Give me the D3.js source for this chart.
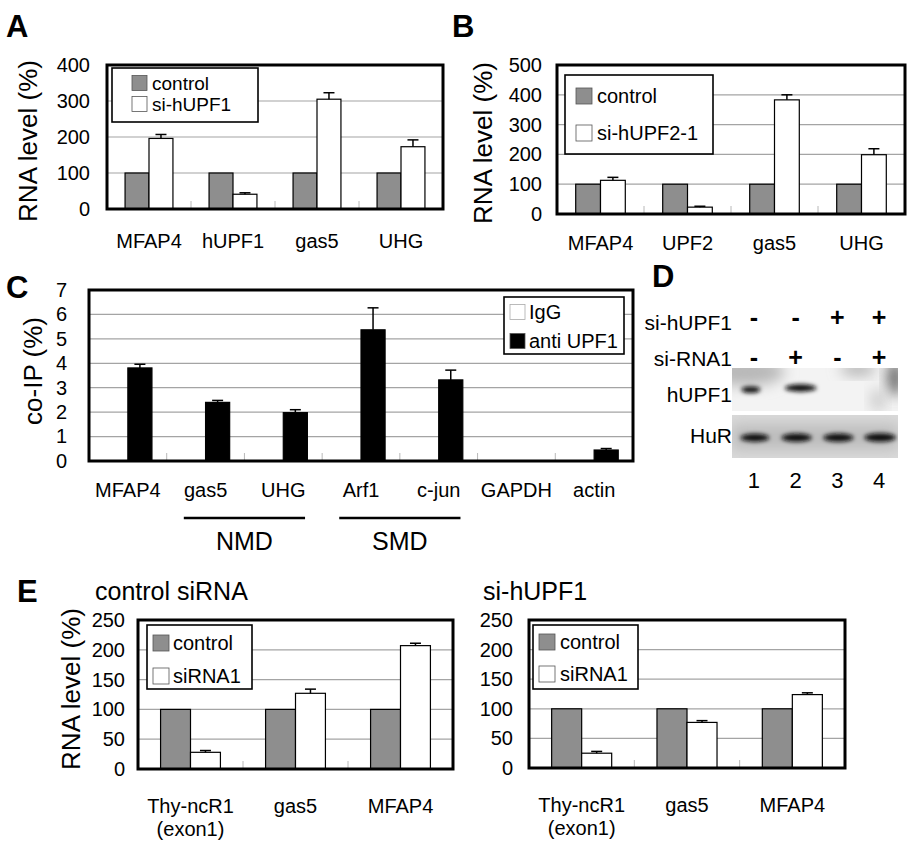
<!DOCTYPE html>
<html><head><meta charset="utf-8">
<script src="https://cdn.jsdelivr.net/npm/d3@7"></script>
<style>
body{margin:0;background:#fff}
svg text{font-family:"Liberation Sans",Arial,Helvetica,sans-serif;fill:#000}
</style>
</head><body>
<svg id="fig" width="920" height="852" xmlns="http://www.w3.org/2000/svg"></svg>
<script>
// ---------------- DATA ----------------
// Panel A
const catsA = ["MFAP4", "hUPF1", "gas5", "UHG"];
const ctrlA = [100, 100, 100, 100];
const siA   = [196, 41, 305, 173];
const errA  = [11, 4, 18, 19];
const ticksA = [0, 100, 200, 300, 400];
// Panel B
const catsB = ["MFAP4", "UPF2", "gas5", "UHG"];
const ctrlB = [100, 100, 100, 100];
const siB   = [113, 23, 383, 199];
const errB  = [10, 3, 17, 20];
const ticksB = [0, 100, 200, 300, 400, 500];
// Panel C
const catsC = ["MFAP4", "gas5", "UHG", "Arf1", "c-jun", "GAPDH", "actin"];
const iggC  = [0, 0, 0, 0, 0, 0, 0];
const antiC = [3.81, 2.40, 1.98, 5.37, 3.32, 0, 0.45];
const errC  = [0.15, 0.08, 0.12, 0.90, 0.40, 0, 0.06];
const ticksC = [0, 1, 2, 3, 4, 5, 6, 7];
const groupsC = [{name: "NMD", from: "gas5", to: "UHG"}, {name: "SMD", from: "Arf1", to: "c-jun"}];
// Panel D (western blot)
const lanesD = ["1", "2", "3", "4"];
const siUPF1D = ["-", "-", "+", "+"];
const siRNA1D = ["-", "+", "-", "+"];
const hUPF1Band = [0.6, 1.0, 0, 0];
const hurBand = [0.8, 0.9, 0.9, 1.0];
// Panel E
const catsE = ["Thy-ncR1\n(exon1)", "gas5", "MFAP4"];
const ctrlE1 = [100, 100, 100];
const siE1   = [28, 127, 207];
const errE1  = [3, 7, 4];
const ctrlE2 = [100, 100, 100];
const siE2   = [25, 77, 124];
const errE2  = [3, 3, 3];
const ticksE = [0, 50, 100, 150, 200, 250];

// ---------------- DRAWING ----------------
const FONT = "Liberation Sans, Arial, Helvetica, sans-serif";
const svg = d3.select("#fig");
const GREY = "#8e8e8e";

function barChart(o) {
  const g = svg.append("g");
  const x = d3.scaleBand().domain(o.cats).range([o.left, o.right]).padding(0);
  const y = d3.scaleLinear().domain([0, o.yMax]).range([o.bottom, o.top]);
  const bw = x.bandwidth() * o.barFrac;
  const xs = d3.scaleBand().domain(o.series.map(s => s.name)).range([-bw, bw]).padding(0);

  // gridlines
  g.selectAll("line.grid").data(o.yTicks.filter(t => t > 0 && t < o.yMax)).join("line")
    .attr("x1", o.left).attr("x2", o.right)
    .attr("y1", d => y(d)).attr("y2", d => y(d))
    .attr("stroke", "#a4a4a4").attr("stroke-width", 1.2);

  // category separators (small ticks)
  g.selectAll("line.sep").data(o.cats.slice(1)).join("line")
    .attr("x1", d => x(d)).attr("x2", d => x(d))
    .attr("y1", o.bottom).attr("y2", o.bottom - 8)
    .attr("stroke", "#b8b8b8").attr("stroke-width", 1);

  // bars
  o.series.forEach(s => {
    const data = o.cats.map((c, i) => ({c, v: s.values[i], e: s.errors ? s.errors[i] : 0}));
    const cx = d => x(d.c) + x.bandwidth() / 2 + xs(s.name);
    g.selectAll(null).data(data.filter(d => d.v > 0)).join("rect")
      .attr("x", cx).attr("width", xs.bandwidth())
      .attr("y", d => y(d.v)).attr("height", d => o.bottom - y(d.v))
      .attr("fill", s.fill).attr("stroke", "#000").attr("stroke-width", 1.2);
    if (s.errors) {
      const mid = d => cx(d) + xs.bandwidth() / 2;
      const ed = data.filter(d => d.e > 0);
      g.selectAll(null).data(ed).join("line")
        .attr("x1", mid).attr("x2", mid)
        .attr("y1", d => y(d.v)).attr("y2", d => y(d.v + d.e))
        .attr("stroke", "#000").attr("stroke-width", 1.5);
      g.selectAll(null).data(ed).join("line")
        .attr("x1", d => mid(d) - 5.5).attr("x2", d => mid(d) + 5.5)
        .attr("y1", d => y(d.v + d.e)).attr("y2", d => y(d.v + d.e))
        .attr("stroke", "#000").attr("stroke-width", 1.5);
    }
  });

  // frame
  g.append("rect").attr("x", o.left).attr("y", o.top)
    .attr("width", o.right - o.left).attr("height", o.bottom - o.top)
    .attr("fill", "none").attr("stroke", "#000").attr("stroke-width", 3);

  // y axis
  g.append("g").attr("transform", `translate(${o.left},0)`)
    .call(d3.axisLeft(y).tickValues(o.yTicks).tickFormat(d3.format("d")).tickSize(0).tickPadding(o.yPad))
    .call(a => a.select(".domain").remove())
    .attr("font-size", 20).attr("font-family", FONT);

  // x axis
  const xa = g.append("g").attr("transform", `translate(0,${o.bottom})`)
    .call(d3.axisBottom(x).tickSize(0).tickPadding(o.xPad))
    .call(a => a.select(".domain").remove())
    .attr("font-size", 20).attr("font-family", FONT);
  xa.selectAll(".tick text").each(function(d) {
    const lines = d.split("\n");
    const t = d3.select(this).text(null).attr("dy", null);
    lines.forEach((ln, i) => t.append("tspan").attr("x", 0)
      .attr("dy", i === 0 ? "0.71em" : "1.15em").text(ln));
  });

  // legend
  if (o.legend) {
    const L = o.legend;
    g.append("rect").attr("x", L.x).attr("y", L.y).attr("width", L.w).attr("height", L.h)
      .attr("fill", "#fff").attr("stroke", "#000").attr("stroke-width", 1.6);
    o.series.forEach((s, i) => {
      const cy = L.rows[i];
      g.append("rect").attr("x", L.sx).attr("y", cy - L.ss / 2).attr("width", L.ss).attr("height", L.ss)
        .attr("fill", s.fill).attr("stroke", s.swStroke || "#555").attr("stroke-width", 0.8);
      g.append("text").attr("x", L.tx).attr("y", cy + 0.35 * L.fs).attr("font-size", L.fs).text(s.name);
    });
  }

  // y title
  if (o.yTitle) {
    g.append("text").attr("transform", `translate(${o.yTitleX},${o.yTitleY}) rotate(-90)`)
      .attr("text-anchor", "middle").attr("font-size", 26).text(o.yTitle);
  }
  return {x, y, g};
}

function panelLetter(t, x, y) {
  svg.append("text").attr("x", x).attr("y", y).attr("font-size", 31)
    .attr("font-weight", "bold").text(t);
}

// ---- Panel A ----
panelLetter("A", 6, 37);
barChart({
  left: 107, right: 443, top: 65, bottom: 209, yMax: 400, yTicks: ticksA, cats: catsA,
  barFrac: 0.285, yPad: 17, xPad: 25,
  series: [{name: "control", values: ctrlA, fill: GREY},
           {name: "si-hUPF1", values: siA, errors: errA, fill: "#fff"}],
  legend: {x: 112, y: 68, w: 146, h: 54, rows: [83, 104], sx: 132, ss: 15, tx: 152, fs: 19},
  yTitle: "RNA level (%)", yTitleX: 37, yTitleY: 141
});

// ---- Panel B ----
panelLetter("B", 452, 37);
barChart({
  left: 557, right: 905, top: 65, bottom: 214, yMax: 500, yTicks: ticksB, cats: catsB,
  barFrac: 0.285, yPad: 15, xPad: 22,
  series: [{name: "control", values: ctrlB, fill: GREY},
           {name: "si-hUPF2-1", values: siB, errors: errB, fill: "#fff"}],
  legend: {x: 565, y: 75, w: 148, h: 79, rows: [96, 133], sx: 576, ss: 16, tx: 597, fs: 20},
  yTitle: "RNA level (%)", yTitleX: 492, yTitleY: 143
});

// ---- Panel C ----
panelLetter("C", 6, 298);
const cC = barChart({
  left: 89, right: 633, top: 290, bottom: 461, yMax: 7, yTicks: ticksC, cats: catsC,
  barFrac: 0.31, yPad: 22, xPad: 22,
  series: [{name: "IgG", values: iggC, fill: "#fff", swStroke: "#aaa"},
           {name: "anti UPF1", values: antiC, errors: errC, fill: "#000"}],
  legend: {x: 504, y: 297, w: 120, h: 57, rows: [312, 341], sx: 510, ss: 15, tx: 529, fs: 20},
  yTitle: "co-IP (%)", yTitleX: 42, yTitleY: 371
});
groupsC.forEach(gr => {
  const x = cC.x, bwC = x.bandwidth();
  const x1 = x(gr.from) + bwC * 0.22, x2 = x(gr.to) + bwC * 0.78;
  svg.append("line").attr("x1", x1).attr("x2", x2).attr("y1", 518).attr("y2", 518)
    .attr("stroke", "#000").attr("stroke-width", 2.5);
  svg.append("text").attr("x", (x1 + x2) / 2).attr("y", 550).attr("text-anchor", "middle")
    .attr("font-size", 25).text(gr.name);
});

// ---- Panel D (western blot) ----
panelLetter("D", 652, 287);
(function() {
  const xl = d3.scaleBand().domain(lanesD).range([733, 900]);
  const c = d => xl(d) + xl.bandwidth() / 2;
  const defs = svg.append("defs");
  defs.append("filter").attr("id", "blur2").attr("x", "-50%").attr("y", "-100%").attr("width", "200%").attr("height", "300%")
    .append("feGaussianBlur").attr("stdDeviation", 2.2);
  defs.append("filter").attr("id", "blur6").attr("x", "-50%").attr("y", "-50%").attr("width", "200%").attr("height", "200%")
    .append("feGaussianBlur").attr("stdDeviation", 7);
  defs.append("clipPath").attr("id", "clipU").append("rect").attr("x", 732).attr("y", 368).attr("width", 166).attr("height", 43);
  defs.append("clipPath").attr("id", "clipH").append("rect").attr("x", 732).attr("y", 415).attr("width", 166).attr("height", 43);

  const rowLbl = (t, yb) => svg.append("text").attr("x", 732).attr("y", yb).attr("text-anchor", "end")
    .attr("font-size", 21).text(t);
  rowLbl("si-hUPF1", 330);
  rowLbl("si-RNA1", 366);
  rowLbl("hUPF1", 402);
  rowLbl("HuR", 443);

  svg.selectAll(null).data(lanesD).join("text")
    .attr("x", c).attr("y", 326).attr("text-anchor", "middle").attr("font-size", 25).attr("font-weight", "bold")
    .text((d, i) => siUPF1D[i]);
  svg.selectAll(null).data(lanesD).join("text")
    .attr("x", c).attr("y", 366).attr("text-anchor", "middle").attr("font-size", 25).attr("font-weight", "bold")
    .text((d, i) => siRNA1D[i]);

  // hUPF1 blot
  const gu = svg.append("g").attr("clip-path", "url(#clipU)");
  gu.append("rect").attr("x", 732).attr("y", 368).attr("width", 166).attr("height", 43).attr("fill", "#f3f3f3");
  gu.append("ellipse").attr("cx", 745).attr("cy", 372).attr("rx", 40).attr("ry", 14).attr("fill", "#b8b8b8").attr("filter", "url(#blur6)");
  gu.append("ellipse").attr("cx", 895).attr("cy", 378).attr("rx", 8).attr("ry", 18).attr("fill", "#666").attr("filter", "url(#blur6)");
  gu.append("ellipse").attr("cx", 858).attr("cy", 369).attr("rx", 18).attr("ry", 6).attr("fill", "#aaa").attr("filter", "url(#blur6)");
  gu.append("ellipse").attr("cx", 878).attr("cy", 400).attr("rx", 7).attr("ry", 12).attr("fill", "#c8c8c8").attr("filter", "url(#blur6)");
  gu.selectAll(null).data(lanesD.filter((d, i) => hUPF1Band[i] > 0)).join("ellipse")
    .attr("cx", d => c(d) + (hUPF1Band[lanesD.indexOf(d)] - 0.6) * 20 - 3)
    .attr("cy", d => 392 - hUPF1Band[lanesD.indexOf(d)] * 4)
    .attr("rx", d => xl.bandwidth() * 0.38 * hUPF1Band[lanesD.indexOf(d)])
    .attr("ry", d => 2.5 + hUPF1Band[lanesD.indexOf(d)] * 1.2)
    .attr("fill", "#111").attr("filter", "url(#blur2)");

  // HuR blot
  const gh = svg.append("g").attr("clip-path", "url(#clipH)");
  gh.append("rect").attr("x", 732).attr("y", 415).attr("width", 166).attr("height", 43).attr("fill", "#d9d9d9");
  gh.append("rect").attr("x", 732).attr("y", 425).attr("width", 166).attr("height", 24).attr("fill", "#bcbcbc").attr("filter", "url(#blur6)");
  gh.selectAll(null).data(lanesD).join("ellipse")
    .attr("cx", d => c(d) + 1)
    .attr("cy", (d, i) => 439 - hurBand[i] * 1.5)
    .attr("rx", (d, i) => xl.bandwidth() * (0.2 + 0.18 * hurBand[i]))
    .attr("ry", (d, i) => 3 + 1.2 * hurBand[i])
    .attr("fill", "#111").attr("filter", "url(#blur2)");

  svg.selectAll(null).data(lanesD).join("text")
    .attr("x", c).attr("y", 488).attr("text-anchor", "middle").attr("font-size", 22).text(d => d);
})();

// ---- Panel E ----
panelLetter("E", 17, 602);
svg.append("text").attr("x", 95).attr("y", 600).attr("font-size", 25).text("control siRNA");
svg.append("text").attr("x", 483).attr("y", 600).attr("font-size", 25).text("si-hUPF1");
barChart({
  left: 138, right: 453, top: 620, bottom: 769, yMax: 250, yTicks: ticksE, cats: catsE,
  barFrac: 0.285, yPad: 13, xPad: 30,
  series: [{name: "control", values: ctrlE1, fill: GREY},
           {name: "siRNA1", values: siE1, errors: errE1, fill: "#fff"}],
  legend: {x: 147, y: 625, w: 105, h: 64, rows: [643, 676], sx: 153, ss: 16, tx: 173, fs: 20},
  yTitle: "RNA level (%)", yTitleX: 80, yTitleY: 689
});
barChart({
  left: 529, right: 845, top: 620, bottom: 768, yMax: 250, yTicks: ticksE, cats: catsE,
  barFrac: 0.285, yPad: 16, xPad: 30,
  series: [{name: "control", values: ctrlE2, fill: GREY},
           {name: "siRNA1", values: siE2, errors: errE2, fill: "#fff"}],
  legend: {x: 533, y: 625, w: 105, h: 64, rows: [642, 674], sx: 539, ss: 16, tx: 560, fs: 20}
});
</script>
</body></html>
